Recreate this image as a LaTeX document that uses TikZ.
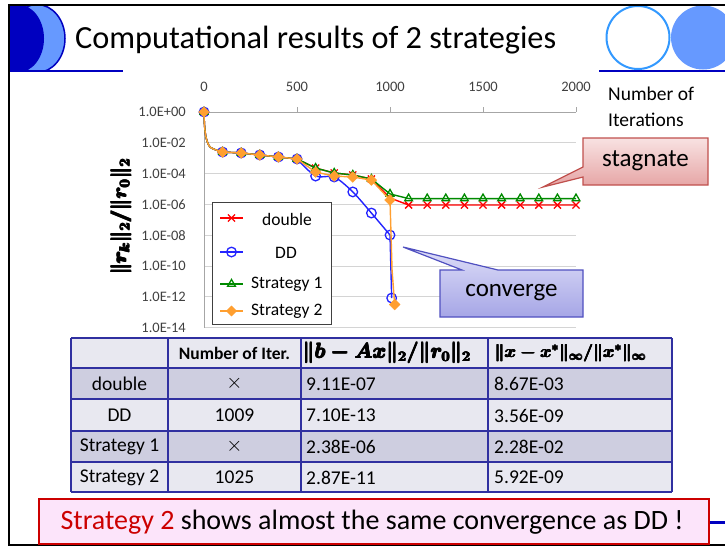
\documentclass[tikz,border=0pt]{standalone}
\usepackage[no-math]{fontspec}
\setmainfont{Carlito}
\usetikzlibrary{plotmarks}
\definecolor{navy}{HTML}{0000C0}
\definecolor{lblue}{HTML}{6699FF}
\definecolor{cblue}{HTML}{3399FF}
\definecolor{gridc}{HTML}{D4D4D4}
\definecolor{axisc}{HTML}{A6A6A6}
\definecolor{tickc}{HTML}{404040}
\definecolor{sred}{HTML}{FF0000}
\definecolor{sblue}{HTML}{2424FF}
\definecolor{sgreen}{HTML}{008A00}
\definecolor{sorange}{HTML}{FF9F30}
\definecolor{tbline}{HTML}{3030A0}
\definecolor{rowa}{HTML}{E8E8F0}
\definecolor{rowb}{HTML}{CECEE0}
\definecolor{boxred}{HTML}{CC0000}
\definecolor{boxpink}{HTML}{FCE4FA}
\definecolor{stagtop}{HTML}{F8E2E2}
\definecolor{stagbot}{HTML}{E6A4A4}
\definecolor{stagline}{HTML}{C0504D}
\definecolor{convtop}{HTML}{DEDEF8}
\definecolor{convbot}{HTML}{A6A6E6}
\definecolor{convline}{HTML}{5050C0}
\newcommand\heavy[2]{\rlap{#2}\rlap{\raisebox{#1}{#2}}\kern#1\rlap{#2}\rlap{\raisebox{#1}{#2}}\kern#1\rlap{\raisebox{#1}{#2}}#2}
\newcommand\myytitle{\mbox{\heavy{0.55pt}{\boldmath$\Vert r_k\Vert_2/\Vert r_0\Vert_2$}}}
\newcommand\myhthree{\mbox{\heavy{0.45pt}{\boldmath$\Vert b-Ax\Vert_2/\Vert r_0\Vert_2$}}}
\newcommand\myhfour{\mbox{\heavy{0.45pt}{\boldmath$\Vert x-x^*\Vert_\infty/\Vert x^*\Vert_\infty$}}}
\newcommand\mycross{\mbox{$\times$}}
\begin{document}
\begin{tikzpicture}[x=1pt,y=-1pt,
  ticklbl/.style={font=\fontsize{14.5}{16}\selectfont, text=tickc, inner sep=0pt},
  leglbl/.style={font=\fontsize{17.5}{20}\selectfont, inner sep=0pt},
  cell/.style={font=\fontsize{19.5}{22}\selectfont, inner sep=0pt},
  crosscell/.style={font=\fontsize{22}{22}\selectfont, inner sep=0pt},
  callout/.style={font=\fontsize{25}{28}\selectfont, inner sep=0pt},
  gridline/.style={gridc, line width=1},
  serline/.style={line width=1.4},
  tblline/.style={tbline, line width=1.3}]
\useasboundingbox (0,0) rectangle (725,547);

% ---------- header decorations ----------
\begin{scope}
  \clip (9,6) rectangle (100,71);
  \fill[lblue, draw=navy, line width=1.5] (37,38.5) ellipse [x radius=28, y radius=34];
  \fill[navy] (18,38.5) ellipse [x radius=26, y radius=34];
\end{scope}
\begin{scope}
  \clip (590,6) rectangle (725,70);
  \draw[cblue, line width=2] (638,37.5) ellipse [x radius=31.5, y radius=31.5];
  \fill[lblue] (703,37.5) ellipse [x radius=32, y radius=32];
\end{scope}
\draw[navy, line width=2] (8,71) -- (123,71);
\draw[navy, line width=2.5] (599,71) -- (725,71);
\node[anchor=base west, font=\fontsize{32.3}{38}\selectfont, inner sep=0pt] (title) at (75,48) {Computational results of 2 strategies};

% frame
\draw[black, line width=2.2] (8,5) -- (725,5);
\draw[black, line width=2.2] (9,4) -- (9,546);
\draw[black, line width=1.8] (9,545) -- (725,545);

% ---------- chart ----------
\node[anchor=base west, font=\fontsize{19.5}{24}\selectfont, inner sep=0pt] (xt1) at (608,100) {Number of};
\node[anchor=base west, font=\fontsize{19.5}{24}\selectfont, inner sep=0pt] (xt2) at (608,126) {Iterations};

\node[rotate=90, inner sep=0pt, font=\fontsize{21.5}{24}\selectfont] (ytitle) at (121,217) {\myytitle};

\begin{scope}[shift={(204,112)}, x=0.186pt, y=15.4pt]
  \foreach \k in {-2,-4,...,-14} \draw[gridline] (0,\k) -- (2000,\k);
  \draw[axisc, line width=1] (0,0) -- (2000,0);
  \draw[axisc, line width=1] (0,0) -- (0,-14);
  \foreach \t in {0,500,1000,1500,2000} {
    \draw[axisc, line width=1] (\t,0) -- ++(0,0.33);
    \node[ticklbl] (xl\t) at (\t,1.62) {\t};
  }
  \foreach \k/\t in {0/{1.0E+00},-2/{1.0E-02},-4/{1.0E-04},-6/{1.0E-06},-8/{1.0E-08},-10/{1.0E-10},-12/{1.0E-12},-14/{1.0E-14}}
    \node[ticklbl, anchor=east] (yl\k) at ([xshift=-18pt]0,\k) {\t};

  % double
  \draw[sred, serline] plot[smooth] coordinates {(0,0)(3,-0.9)(12,-1.7)(35,-2.3)(100,-2.6)}
     -- (200,-2.66) -- (300,-2.79) -- (400,-2.92) -- (500,-3.05) -- (600,-3.64) -- (700,-3.96)
     -- (800,-4.09) -- (900,-4.35) -- (1000,-5.58) -- (1100,-6.04) -- (2000,-6.04);
  \draw[sred, line width=1.3] plot[only marks, mark=x, mark size=5] coordinates {
     (0,0)(100,-2.6)(200,-2.66)(300,-2.79)(400,-2.92)(500,-3.05)(600,-3.64)(700,-3.96)(800,-4.09)(900,-4.35)(1000,-5.58)
     (1100,-6.04)(1200,-6.04)(1300,-6.04)(1400,-6.04)(1500,-6.04)(1600,-6.04)(1700,-6.04)(1800,-6.04)(1900,-6.04)(2000,-6.04)};
  % DD
  \draw[sblue, serline] plot[smooth] coordinates {(0,0)(3,-0.9)(12,-1.7)(35,-2.3)(100,-2.6)}
     -- (200,-2.66) -- (300,-2.79) -- (400,-2.92) -- (500,-3.05)
     plot[smooth, tension=0.5] coordinates {(500,-3.05)(600,-4.16)(700,-4.22)(800,-5.19)(900,-6.56)(1000,-7.99)}
     -- (1009,-12.08);
  \draw[sblue, line width=1.3] plot[only marks, mark=o, mark size=4.8] coordinates {
     (0,0)(100,-2.6)(200,-2.66)(300,-2.79)(400,-2.92)(500,-3.05)(600,-4.16)(700,-4.22)(800,-5.19)(900,-6.56)(1000,-7.99)(1009,-12.08)};
  % Strategy 1
  \draw[sgreen, serline] plot[smooth] coordinates {(0,0)(3,-0.9)(12,-1.7)(35,-2.3)(100,-2.6)}
     -- (200,-2.66) -- (300,-2.79) -- (400,-2.92) -- (500,-3.05) -- (600,-3.64) -- (700,-3.96)
     -- (800,-4.09) -- (900,-4.35) -- (1000,-5.32) -- (1100,-5.62) -- (2000,-5.62);
  \draw[sgreen, line width=1.3] plot[only marks, mark=triangle, mark size=4.5] coordinates {
     (0,0)(100,-2.6)(200,-2.66)(300,-2.79)(400,-2.92)(500,-3.05)(600,-3.64)(700,-3.96)(800,-4.09)(900,-4.35)(1000,-5.32)
     (1100,-5.62)(1200,-5.62)(1300,-5.62)(1400,-5.62)(1500,-5.62)(1600,-5.62)(1700,-5.62)(1800,-5.62)(1900,-5.62)(2000,-5.62)};
  % Strategy 2
  \draw[sorange, serline] plot[smooth] coordinates {(0,0)(3,-0.9)(12,-1.7)(35,-2.3)(100,-2.6)}
     -- (200,-2.66) -- (300,-2.79) -- (400,-2.92) -- (500,-3.05) -- (600,-3.90) -- (700,-4.16)
     -- (800,-4.22) -- (900,-4.42) -- (1000,-5.71) -- (1011,-10.26) -- (1025,-12.5);
  \draw[sorange] plot[only marks, mark=square*, mark size=3.8, mark options={rotate=45, fill=sorange, draw=sorange}] coordinates {
     (0,0)(100,-2.6)(200,-2.66)(300,-2.79)(400,-2.92)(500,-3.05)(600,-3.90)(700,-4.16)(800,-4.22)(900,-4.42)(1000,-5.71)(1025,-12.5)};
\end{scope}

% legend
\draw[fill=white, draw=black!75, line width=0.8] (212,202) rectangle (331,324);
\draw[sred, serline] (220,218) -- (243,218);
\draw[sred, line width=1.3] plot[only marks, mark=x, mark size=5] coordinates {(231.5,218)};
\node[leglbl] (lg1) at (287,219) {double};
\draw[sblue, serline] (220,252) -- (243,252);
\draw[sblue, line width=1.3] plot[only marks, mark=o, mark size=4.8] coordinates {(231.5,252)};
\node[leglbl] (lg2) at (286,253) {DD};
\draw[sgreen, serline] (220,284) -- (243,284);
\draw[sgreen, line width=1.3] plot[only marks, mark=triangle, mark size=4.5] coordinates {(231.5,284)};
\node[leglbl, anchor=west] (lg3) at (251,284) {Strategy 1};
\draw[sorange, serline] (220,311) -- (243,311);
\draw[sorange] plot[only marks, mark=square*, mark size=3.6, mark options={rotate=45, fill=sorange, draw=sorange}] coordinates {(231.5,311)};
\node[leglbl, anchor=west] (lg4) at (251,311) {Strategy 2};

% callouts
\path[draw=stagline, line width=1.2, top color=stagtop, bottom color=stagbot]
  (583,138) -- (708,138) -- (708,185) -- (583,185) -- (583,177) -- (543,187) -- (583,167) -- cycle;
\node[callout] (stag) at (645.5,161) {stagnate};
\path[draw=convline, line width=1.2, top color=convtop, bottom color=convbot]
  (440,270) -- (462,270) -- (403,247) -- (498,270) -- (583,270) -- (583,317) -- (440,317) -- cycle;
\node[callout] (conv) at (511.5,293) {converge};

% ---------- table ----------
\fill[rowa] (71,338) rectangle (672,368);
\fill[rowb] (71,368) rectangle (672,399);
\fill[rowa] (71,399) rectangle (672,431);
\fill[rowb] (71,431) rectangle (672,462);
\fill[rowa] (71,462) rectangle (672,492);
\foreach \yy in {338,368,399,462,492} \draw[tblline] (71,\yy) -- (672,\yy);
\draw[tbline, line width=2] (71,431) -- (672,431);
\foreach \xx in {71,168,301,488,672} \draw[tblline] (\xx,338) -- (\xx,492);

\node[font=\bfseries\fontsize{17.5}{20}\selectfont, inner sep=0pt] (h2) at (234.5,353) {Number of Iter.};
\node[anchor=west, inner sep=0pt, font=\fontsize{20.3}{24}\selectfont] (h3) at (302,353) {\myhthree};
\node[anchor=west, inner sep=0pt, font=\fontsize{18.5}{22}\selectfont] (h4) at (494,353) {\myhfour};

\node[cell] (r1c1) at (119.5,384) {double};
\node[cell] (r2c1) at (119.5,415.5) {DD};
\node[cell] (r3c1) at (119.5,447) {Strategy 1};
\node[cell] (r4c1) at (119.5,477.5) {Strategy 2};
\node[crosscell] (r1c2) at (234.5,383.5) {\mycross};
\node[cell] (r2c2) at (234.5,415.5) {1009};
\node[crosscell] (r3c2) at (234.5,446.5) {\mycross};
\node[cell] (r4c2) at (234.5,477.5) {1025};
\node[cell, anchor=west] (r1c3) at (306,384) {9.11E-07};
\node[cell, anchor=west] (r2c3) at (306,415.5) {7.10E-13};
\node[cell, anchor=west] (r3c3) at (306,447) {2.38E-06};
\node[cell, anchor=west] (r4c3) at (306,477.5) {2.87E-11};
\node[cell, anchor=west] (r1c4) at (494,384) {8.67E-03};
\node[cell, anchor=west] (r2c4) at (494,415.5) {3.56E-09};
\node[cell, anchor=west] (r3c4) at (494,447) {2.28E-02};
\node[cell, anchor=west] (r4c4) at (494,477.5) {5.92E-09};

% ---------- bottom message ----------
\draw[navy, line width=3] (709,522) -- (725,522);
\draw[draw=boxred, fill=boxpink, line width=2] (39,499) rectangle (709,544);
\node[font=\fontsize{28}{30}\selectfont, inner sep=0pt] (msg) at (372,522) {\textcolor{boxred}{Strategy 2} shows almost the same convergence as DD !};
\end{tikzpicture}
\end{document}
